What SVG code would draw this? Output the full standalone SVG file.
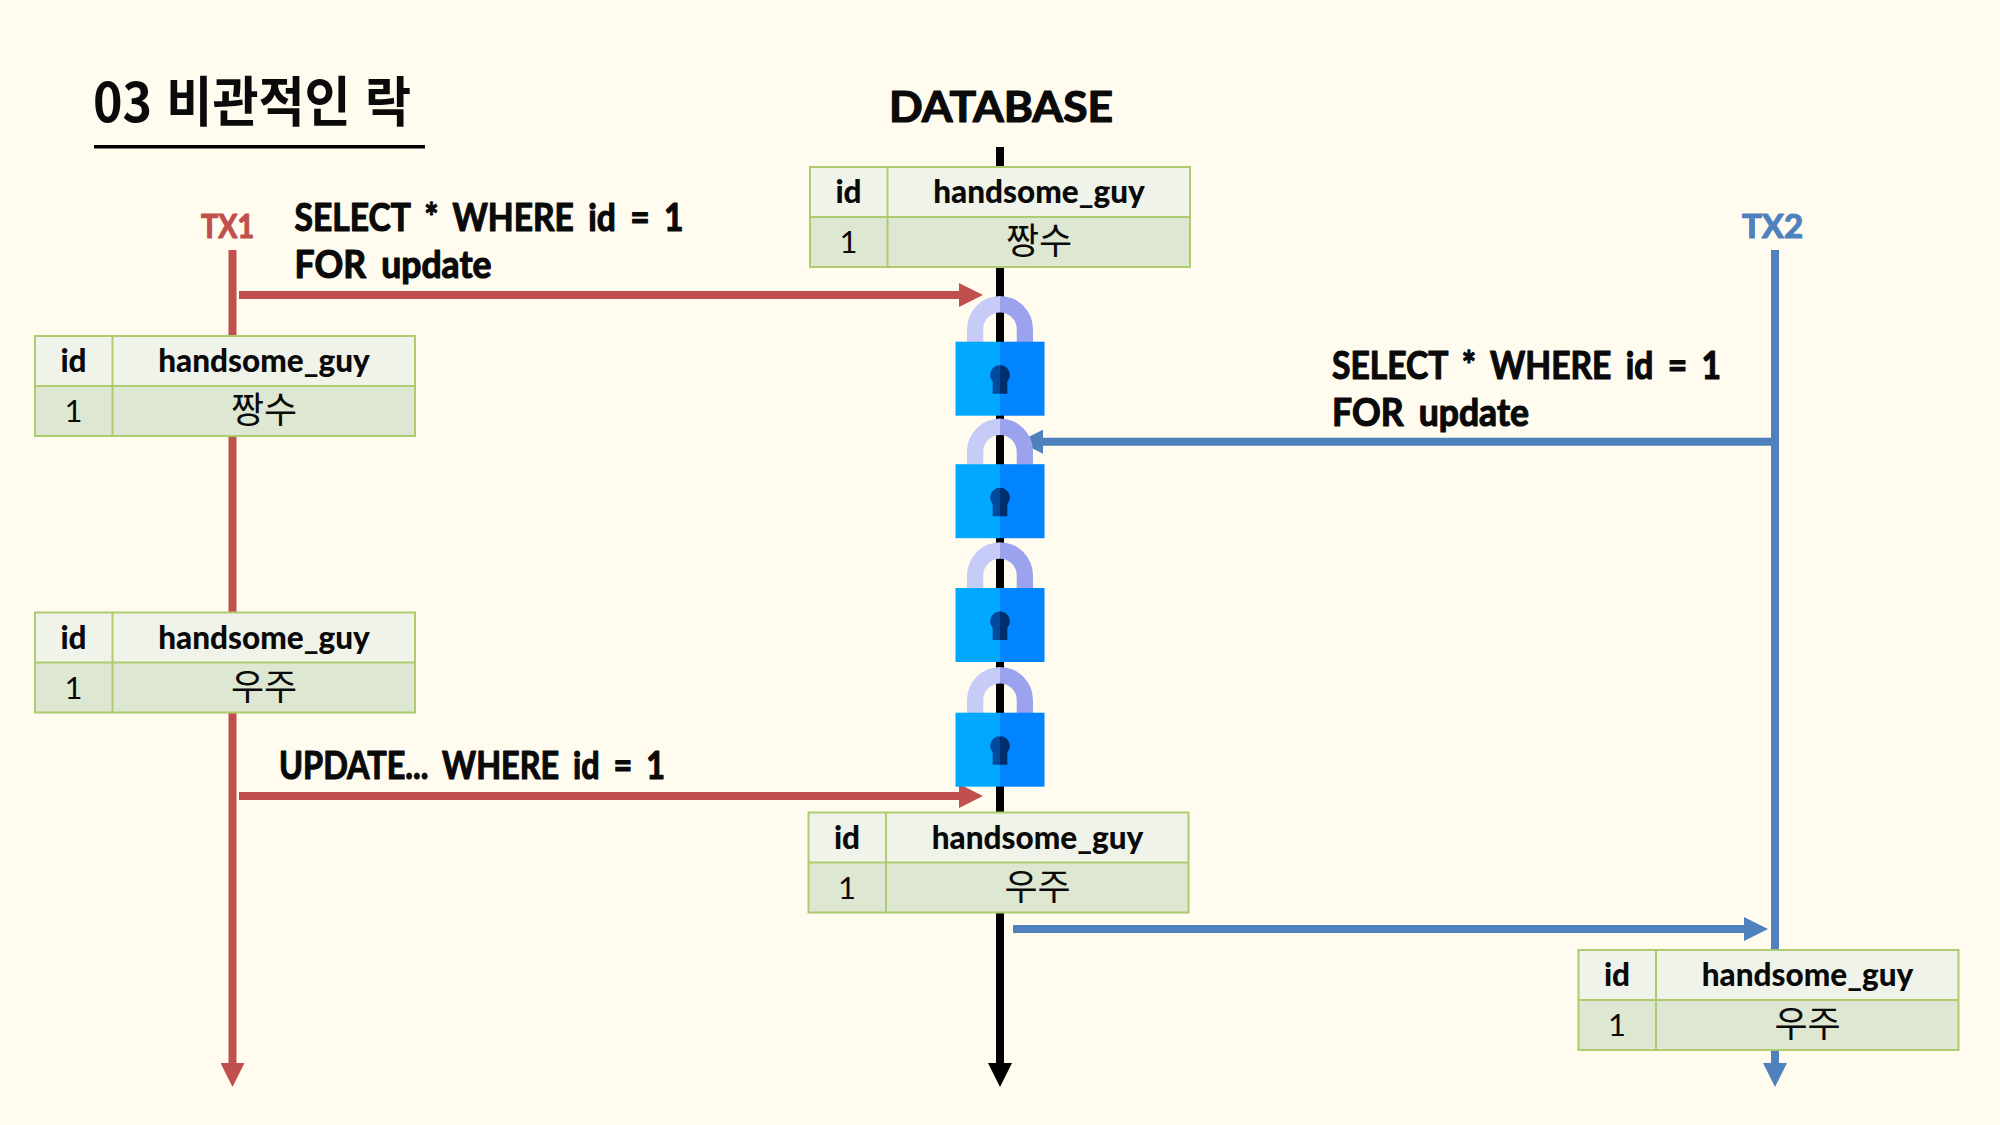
<svg xmlns="http://www.w3.org/2000/svg" xmlns:xlink="http://www.w3.org/1999/xlink" width="2000" height="1125" viewBox="0 0 2000 1125">
<style>
.hand{font-family:"Noto Sans CJK KR","Noto Sans",sans-serif;font-weight:700;fill:#0a0a0a}
.sql{font-family:Lato,sans-serif;font-weight:700;font-size:38px;fill:#0a0a0a;stroke:#0a0a0a;stroke-width:1.2px;stroke-linejoin:round;word-spacing:7px}
.tbl{font-family:Lato,"Noto Sans CJK KR",sans-serif;fill:#0a0a0a;text-anchor:middle}
.th{font-size:31.5px;font-weight:900}
.td{font-size:31px;font-weight:400}
.kr{font-family:"Noto Sans CJK KR",sans-serif;font-size:36px}
.hd{fill:#F0F3EA}
.rw{fill:#DEE7D2}
.bd{fill:none;stroke:#AECB6F;stroke-width:2}
.ln{fill:none;stroke-width:8}
.r{stroke:#C0504D}
.b{stroke:#4F81BD}
.k{stroke:#000}
</style>
<defs>
<marker id="ar" markerUnits="userSpaceOnUse" markerWidth="24" markerHeight="24" refX="12" refY="12" orient="auto"><path d="M0 0L24 12L0 24Z" fill="#C0504D"/></marker>
<marker id="ab" markerUnits="userSpaceOnUse" markerWidth="24" markerHeight="24" refX="12" refY="12" orient="auto"><path d="M0 0L24 12L0 24Z" fill="#4F81BD"/></marker>
<marker id="ak" markerUnits="userSpaceOnUse" markerWidth="24" markerHeight="24" refX="12" refY="12" orient="auto"><path d="M0 0L24 12L0 24Z" fill="#000"/></marker>
<symbol id="lock" overflow="visible">
<path d="M967 342V329A33 33 0 0 1 1000 296V312.5A16.7 16.7 0 0 0 983.3 329V342Z" fill="#C7CBF7"/>
<path d="M1033 342V329A33 33 0 0 0 1000 296V312.5A16.7 16.7 0 0 1 1016.7 329V342Z" fill="#9BA3EE"/>
<rect x="955.5" y="341.7" width="44.5" height="74" fill="#00A8FF"/>
<rect x="1000" y="341.7" width="44.5" height="74" fill="#0084FF"/>
<path d="M1000 365.2A9.8 9.8 0 0 0 992.7 381.5L992.7 393.7H1000Z" fill="#004A9E"/>
<path d="M1000 365.2A9.8 9.8 0 0 1 1007.3 381.5L1007.3 393.7H1000Z" fill="#002F6E"/>
</symbol>
</defs>
<rect width="2000" height="1125" fill="#FFFBEF"/>

<g id="title">
<text class="hand" x="93" y="122" font-size="54" word-spacing="3" textLength="318" lengthAdjust="spacingAndGlyphs">03 비관적인 락</text>
<rect x="94" y="145" width="331" height="3.5" fill="#000"/>
</g>
<g id="database-label"><text class="sql" style="font-size:42px" x="889" y="122" textLength="224" lengthAdjust="spacingAndGlyphs">DATABASE</text></g>
<g id="tx1-label"><text class="sql" x="201" y="238" style="font-size:32px;fill:#C0504D;stroke:#C0504D" textLength="53" lengthAdjust="spacingAndGlyphs">TX1</text></g>
<g id="tx2-label"><text class="sql" x="1742" y="238" style="font-size:32px;fill:#4F81BD;stroke:#4F81BD" textLength="61" lengthAdjust="spacingAndGlyphs">TX2</text></g>

<g id="connectors">
<line id="tx1-line" class="ln r" x1="232.5" y1="250" x2="232.5" y2="1075" marker-end="url(#ar)"/>
<line id="db-line" class="ln k" x1="1000" y1="147" x2="1000" y2="1075" marker-end="url(#ak)"/>
<line id="tx2-line" class="ln b" x1="1775" y1="250" x2="1775" y2="1075" marker-end="url(#ab)"/>
<line id="tx1-select" class="ln r" x1="239" y1="295" x2="971" y2="295" marker-end="url(#ar)"/>
<line id="tx2-select" class="ln b" x1="1773" y1="441.7" x2="1031" y2="441.7" marker-end="url(#ab)"/>
<line id="tx1-update" class="ln r" x1="239" y1="796" x2="971" y2="796" marker-end="url(#ar)"/>
<line id="db-tx2" class="ln b" x1="1013" y1="929" x2="1756" y2="929" marker-end="url(#ab)"/>
</g>

<g id="sql-1">
<text class="sql" x="294.5" y="231" textLength="389" lengthAdjust="spacingAndGlyphs">SELECT * WHERE id = 1</text>
<text class="sql" x="294.5" y="277.5" textLength="197" lengthAdjust="spacingAndGlyphs">FOR update</text>
</g>
<g id="sql-2">
<text class="sql" x="1332" y="379" textLength="389" lengthAdjust="spacingAndGlyphs">SELECT * WHERE id = 1</text>
<text class="sql" x="1332" y="425.5" textLength="197" lengthAdjust="spacingAndGlyphs">FOR update</text>
</g>
<g id="sql-3">
<text class="sql" x="279" y="779" textLength="386" lengthAdjust="spacingAndGlyphs">UPDATE... WHERE id = 1</text>
</g>

<g id="lock-1"><use href="#lock" xlink:href="#lock"/></g>
<g id="lock-2"><use href="#lock" xlink:href="#lock" y="122.5"/></g>
<g id="lock-3"><use href="#lock" xlink:href="#lock" y="246.3"/></g>
<g id="lock-4"><use href="#lock" xlink:href="#lock" y="371"/></g>

<g id="table-db-1" transform="translate(810 167)">
<rect class="hd" width="380" height="50"/><rect class="rw" y="50" width="380" height="50"/>
<path class="bd" d="M0 0H380V100H0ZM0 50H380M77.5 0V100"/>
<text class="tbl th" x="38.5" y="36">id</text><text class="tbl th" x="229" y="36">handsome_guy</text>
<text class="tbl td" x="38.5" y="86">1</text><text class="tbl kr" x="229" y="87">짱수</text>
</g>
<g id="table-tx1-1" transform="translate(35 336)">
<rect class="hd" width="380" height="50"/><rect class="rw" y="50" width="380" height="50"/>
<path class="bd" d="M0 0H380V100H0ZM0 50H380M77.5 0V100"/>
<text class="tbl th" x="38.5" y="36">id</text><text class="tbl th" x="229" y="36">handsome_guy</text>
<text class="tbl td" x="38.5" y="86">1</text><text class="tbl kr" x="229" y="87">짱수</text>
</g>
<g id="table-tx1-2" transform="translate(35 612.5)">
<rect class="hd" width="380" height="50"/><rect class="rw" y="50" width="380" height="50"/>
<path class="bd" d="M0 0H380V100H0ZM0 50H380M77.5 0V100"/>
<text class="tbl th" x="38.5" y="36">id</text><text class="tbl th" x="229" y="36">handsome_guy</text>
<text class="tbl td" x="38.5" y="86">1</text><text class="tbl kr" x="229" y="87">우주</text>
</g>
<g id="table-db-2" transform="translate(808.5 812.5)">
<rect class="hd" width="380" height="50"/><rect class="rw" y="50" width="380" height="50"/>
<path class="bd" d="M0 0H380V100H0ZM0 50H380M77.5 0V100"/>
<text class="tbl th" x="38.5" y="36">id</text><text class="tbl th" x="229" y="36">handsome_guy</text>
<text class="tbl td" x="38.5" y="86">1</text><text class="tbl kr" x="229" y="87">우주</text>
</g>
<g id="table-tx2" transform="translate(1578.5 950)">
<rect class="hd" width="380" height="50"/><rect class="rw" y="50" width="380" height="50"/>
<path class="bd" d="M0 0H380V100H0ZM0 50H380M77.5 0V100"/>
<text class="tbl th" x="38.5" y="36">id</text><text class="tbl th" x="229" y="36">handsome_guy</text>
<text class="tbl td" x="38.5" y="86">1</text><text class="tbl kr" x="229" y="87">우주</text>
</g>
</svg>
